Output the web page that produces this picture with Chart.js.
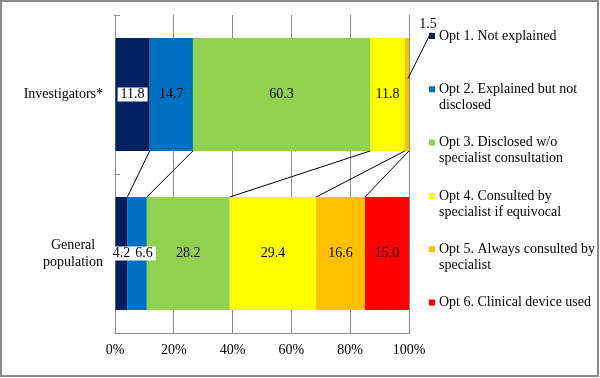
<!DOCTYPE html>
<html>
<head>
<meta charset="utf-8">
<script src="https://cdn.jsdelivr.net/npm/chart.js@4"></script>
<style>
  html, body { margin: 0; padding: 0; background: #fff; }
  #wrap { width: 600px; height: 378px; }
</style>
</head>
<body>
<div id="wrap"><canvas id="optChart" width="600" height="378"></canvas></div>
<script>
// chart data
const categories = [['Investigators*'], ['General', 'population']];
const seriesNames = [
    ['Opt 1. Not explained'],
    ['Opt 2. Explained but not', 'disclosed'],
    ['Opt 3. Disclosed w/o', 'specialist consultation'],
    ['Opt 4. Consulted by', 'specialist if equivocal'],
    ['Opt 5. Always consulted by', 'specialist'],
    ['Opt 6. Clinical device used']
];
const opt1 = [11.8, 4.2];
const opt2 = [14.7, 6.6];
const opt3 = [60.3, 28.2];
const opt4 = [11.8, 29.4];
const opt5 = [1.5, 16.6];
const opt6 = [0, 15.0];
const xTicks = [0, 20, 40, 60, 80, 100];

const seriesValues = [opt1, opt2, opt3, opt4, opt5, opt6];
const seriesColors = ['#002060', '#0070C0', '#92D050', '#FFFF00', '#FFC000', '#FF0000'];
const FONT = '14px "Liberation Serif", "Times New Roman", serif';
const GRID = '#8c8c8c';

// labels that get a white box, and labels moved off their segment (key = dataset-index)
const boxedLabels = ['0-0', '0-1', '1-1'];
const movedLabels = { '1-1': { dx: 7, dy: 0 }, '4-0': { dx: 21, dy: -70, leader: true } };

Chart.defaults.font.family = '"Liberation Serif", "Times New Roman", serif';
Chart.defaults.font.size = 14;
Chart.defaults.color = '#000';

const extrasPlugin = {
    id: 'extras',
    beforeDatasetsDraw(chart) {
        const ctx = chart.ctx;
        const area = chart.chartArea;
        const y = chart.scales.y;
        // small tick marks on category axis
        ctx.save();
        ctx.strokeStyle = GRID;
        ctx.lineWidth = 1;
        [area.top, (area.top + area.bottom) / 2, area.bottom].forEach(function(ty) {
            const py = Math.round(ty) + 0.5;
            ctx.beginPath();
            ctx.moveTo(area.left - 1, py);
            ctx.lineTo(area.left + 5, py);
            ctx.stroke();
        });
        ctx.restore();

        // category labels, each block centered, blocks right aligned
        ctx.save();
        ctx.font = FONT;
        ctx.fillStyle = '#000';
        ctx.textAlign = 'center';
        ctx.textBaseline = 'middle';
        const lineH = 17;
        categories.forEach(function(lines, i) {
            const cy = y.getPixelForValue(i);
            let maxW = 0;
            lines.forEach(function(l) { maxW = Math.max(maxW, ctx.measureText(l).width); });
            const cx = area.left - 12 - maxW / 2;
            lines.forEach(function(l, k) {
                ctx.fillText(l, cx, cy + (k - (lines.length - 1) / 2) * lineH);
            });
        });
        ctx.restore();
    },
    afterDatasetsDraw(chart) {
        const ctx = chart.ctx;
        const area = chart.chartArea;

        // series lines between the two bars
        ctx.save();
        ctx.strokeStyle = '#000';
        ctx.lineWidth = 1;
        for (let d = 0; d < seriesValues.length - 1; d++) {
            const meta = chart.getDatasetMeta(d);
            const top = meta.data[0];
            const bot = meta.data[1];
            const x1 = Math.min(top.x, area.right);
            const x2 = Math.min(bot.x, area.right);
            ctx.beginPath();
            ctx.moveTo(x1, top.y + top.height / 2);
            ctx.lineTo(x2, bot.y - bot.height / 2);
            ctx.stroke();
        }
        ctx.restore();

        // data labels
        ctx.save();
        ctx.font = FONT;
        ctx.textAlign = 'center';
        ctx.textBaseline = 'middle';
        seriesValues.forEach(function(vals, d) {
            const meta = chart.getDatasetMeta(d);
            vals.forEach(function(v, i) {
                if (!v) return;
                const el = meta.data[i];
                const key = d + '-' + i;
                const txt = v.toFixed(1);
                let cx = (Math.min(el.x, area.right) + el.base) / 2;
                let cy = el.y;
                const mv = movedLabels[key];
                const segX = cx;
                if (mv) { cx += mv.dx; cy += mv.dy; }
                const w = ctx.measureText(txt).width;
                if (boxedLabels.indexOf(key) >= 0) {
                    ctx.fillStyle = '#fff';
                    ctx.fillRect(cx - w / 2 - 3, cy - 7, w + 6, 14);
                }
                if (mv && mv.leader) {
                    ctx.strokeStyle = '#000';
                    ctx.lineWidth = 1;
                    ctx.beginPath();
                    ctx.moveTo(cx + 3, cy + 8);
                    ctx.lineTo(segX + 1, el.y - 16);
                    ctx.stroke();
                }
                ctx.fillStyle = '#000';
                ctx.fillText(txt, cx, cy);
            });
        });
        ctx.restore();
    },
    afterDraw(chart) {
        const ctx = chart.ctx;
        // legend
        ctx.save();
        ctx.font = FONT;
        ctx.textAlign = 'left';
        ctx.textBaseline = 'middle';
        const lx = 429;
        const firstY = 36;
        const step = 53.3;
        const lineH = 16;
        seriesNames.forEach(function(lines, d) {
            const ly = firstY + d * step;
            ctx.fillStyle = seriesColors[d];
            ctx.fillRect(lx, ly - 3, 6, 6);
            ctx.fillStyle = '#000';
            lines.forEach(function(l, k) {
                ctx.fillText(l, lx + 10, ly + k * lineH);
            });
        });
        // outer frame
        ctx.strokeStyle = '#8a8a8a';
        ctx.lineWidth = 2;
        ctx.strokeRect(1, 1, 597, 375);
        ctx.restore();
    }
};

new Chart(document.getElementById('optChart'), {
    type: 'bar',
    data: {
        labels: categories.map(function(c) { return c.join(' '); }),
        datasets: seriesValues.map(function(vals, d) {
            return {
                label: seriesNames[d].join(' '),
                data: vals,
                backgroundColor: seriesColors[d],
                borderWidth: 0,
                barPercentage: 0.71,
                categoryPercentage: 1
            };
        })
    },
    options: {
        indexAxis: 'y',
        responsive: false,
        animation: false,
        devicePixelRatio: 1,
        layout: {
            padding: { left: 0, right: 191, top: 15, bottom: 0 }
        },
        scales: {
            x: {
                stacked: true,
                min: 0,
                max: 100,
                afterBuildTicks: function(scale) {
                    scale.ticks = xTicks.map(function(v) { return { value: v }; });
                },
                afterFit: function(scale) { scale.height = 45; },
                grid: { color: GRID, drawTicks: false },
                border: { color: GRID },
                ticks: {
                    padding: 9,
                    font: { size: 14 },
                    callback: function(v) { return v + '%'; }
                }
            },
            y: {
                stacked: true,
                afterFit: function(scale) { scale.width = 115; },
                grid: { display: false },
                border: { color: GRID },
                ticks: { display: false }
            }
        },
        plugins: {
            legend: { display: false },
            tooltip: { enabled: false }
        }
    },
    plugins: [extrasPlugin]
});
</script>
</body>
</html>
